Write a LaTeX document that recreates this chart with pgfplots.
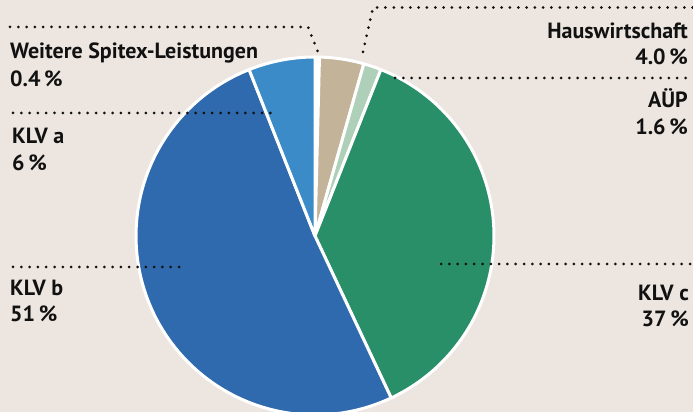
\documentclass[border=0pt]{standalone}
\usepackage{pgfplots}
\pgfplotsset{compat=1.18}
\usepackage{pgfplotstable}
\usepackage{fontspec}
\setmainfont{PT Sans}
\definecolor{bgc}{HTML}{EDE6E0}
\definecolor{cTan}{HTML}{C3B399}
\definecolor{cLG}{HTML}{AECFB8}
\definecolor{cGreen}{HTML}{288F68}
\definecolor{cBlue}{HTML}{2E6AAD}
\definecolor{cLB}{HTML}{3A8BC8}
\definecolor{txt}{HTML}{111111}

\pgfplotstableread{
name value
Weitere 0.4
Haus 4.0
AUP 1.6
KLVc 37
KLVb 51
KLVa 6
}\piedata

\gdef\cum{0}
\foreach \i in {0,...,5}{%
  \pgfplotstablegetelem{\i}{value}\of\piedata
  \pgfmathsetmacro\s{90-3.6*\cum}%
  \pgfmathsetmacro\newcum{\cum+\pgfplotsretval}%
  \pgfmathsetmacro\e{90-3.6*\newcum}%
  \expandafter\xdef\csname sA\i\endcsname{\s}%
  \expandafter\xdef\csname eA\i\endcsname{\e}%
  \xdef\cum{\newcum}%
}

\newcommand\pieslice[2]{%
  \addplot[fill=#2, draw=white, line width=3bp, line join=round,
    domain=\csname eA#1\endcsname:\csname sA#1\endcsname, samples=80, variable=\t]
    ({315+179*cos(\t)},{176+179*sin(\t)}) -- (axis cs:315,176) -- cycle;}

\newcommand\lab{\fontsize{22bp}{26bp}\selectfont\bfseries}
\tikzset{dots/.style={draw=txt, line width=3bp, line cap=round, dash pattern=on 0bp off 8.3bp}}

\begin{document}
\begin{tikzpicture}
\begin{axis}[x=1bp, y=1bp, xmin=0, xmax=693, ymin=0, ymax=412,
  hide axis, scale only axis, clip=true, anchor=south west, at={(0,0)}]
\fill[bgc] (axis cs:0,0) rectangle (axis cs:693,412);
\pieslice{0}{white}
\pieslice{1}{cTan}
\pieslice{2}{cLG}
\pieslice{3}{cGreen}
\pieslice{4}{cBlue}
\pieslice{5}{cLB}
% leader lines
\draw[dots] (axis cs:10,385) -- (axis cs:308,385) -- (axis cs:318,360);
\draw[dots] (axis cs:363,360) -- (axis cs:373,404.5) -- (axis cs:693,404.5);
\draw[dots] (axis cs:395,334) -- (axis cs:693,334);
\draw[dots] (axis cs:13,299) -- (axis cs:276,299);
\draw[dots] (axis cs:13,145) -- (axis cs:181,145);
\draw[dots] (axis cs:441,148) -- (axis cs:693,148);
% labels
\node[anchor=base west, inner sep=0pt, text=txt, font=\lab] at (axis cs:10,353) {Weitere Spitex-Leistungen};
\node[anchor=base west, inner sep=0pt, text=txt, font=\lab] at (axis cs:10,325) {0.4\,\%};
\node[anchor=base east, inner sep=0pt, text=txt, font=\lab] at (axis cs:688,373) {Hauswirtschaft};
\node[anchor=base east, inner sep=0pt, text=txt, font=\lab] at (axis cs:688,347) {4.0\,\%};
\node[anchor=base east, inner sep=0pt, text=txt, font=\lab] at (axis cs:688,304) {AÜP};
\node[anchor=base east, inner sep=0pt, text=txt, font=\lab] at (axis cs:688,277) {1.6\,\%};
\node[anchor=base west, inner sep=0pt, text=txt, font=\lab] at (axis cs:12,268) {KLV a};
\node[anchor=base west, inner sep=0pt, text=txt, font=\lab] at (axis cs:12,241) {6\,\%};
\node[anchor=base west, inner sep=0pt, text=txt, font=\lab] at (axis cs:10,117) {KLV b};
\node[anchor=base west, inner sep=0pt, text=txt, font=\lab] at (axis cs:10,91) {51\,\%};
\node[anchor=base east, inner sep=0pt, text=txt, font=\lab] at (axis cs:689,112) {KLV c};
\node[anchor=base east, inner sep=0pt, text=txt, font=\lab] at (axis cs:689,86) {37\,\%};
\end{axis}
\pgfresetboundingbox
\path[use as bounding box] (0,0) rectangle (693bp,412bp);
\end{tikzpicture}
\end{document}
